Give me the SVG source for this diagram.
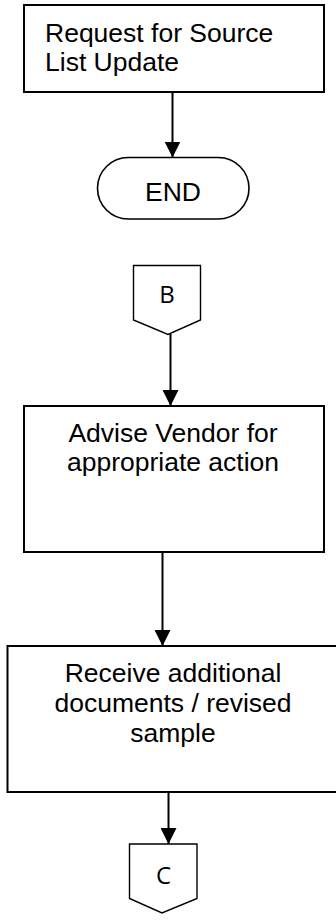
<svg xmlns="http://www.w3.org/2000/svg" width="336" height="920" viewBox="0 0 336 920">
<style>
.box{fill:#fff;stroke:#000;stroke-width:2}
.term{fill:#fff;stroke:#000;stroke-width:1.6}
.conn{fill:#fff;stroke:#000;stroke-width:1.4;stroke-linejoin:miter}
.t{font-family:"Liberation Sans",Arial,sans-serif;font-size:26.5px;fill:#000}
.c{text-anchor:middle}
.ct{font-family:"Open Sans","Liberation Sans",sans-serif;font-size:24px;fill:#000;text-anchor:middle}
.edge{stroke:#000;stroke-width:2;fill:none}
</style>
<defs>
<marker id="arr" markerUnits="userSpaceOnUse" markerWidth="16" markerHeight="16" refX="16" refY="8" orient="auto">
<path d="M0,0 L16,8 L0,16 Z" fill="#000"/>
</marker>
</defs>
<g id="connectors">
<line class="edge" x1="172.5" y1="92" x2="172.5" y2="157.5" marker-end="url(#arr)"/>
<line class="edge" x1="170.5" y1="334" x2="170.5" y2="406" marker-end="url(#arr)"/>
<line class="edge" x1="162.5" y1="552" x2="162.5" y2="646" marker-end="url(#arr)"/>
<line class="edge" x1="168.5" y1="792" x2="168.5" y2="844" marker-end="url(#arr)"/>
</g>
<g id="request">
<rect class="box" x="24" y="5" width="300" height="87"/>
<text class="t" x="45" y="41.7">Request for Source</text>
<text class="t" x="45" y="71">List Update</text>
</g>
<g id="end">
<rect class="term" x="97.5" y="157.5" width="151.5" height="61.5" rx="30.75" ry="30.75"/>
<text class="t c" x="173" y="201">END</text>
</g>
<g id="connB">
<path class="conn" d="M133.5,265.5 H200.5 V320 L168,334.5 L133.5,320 Z"/>
<text class="ct" x="167" y="303.3">B</text>
</g>
<g id="advise">
<rect class="box" x="24" y="406" width="300" height="146"/>
<text class="t c" x="173" y="441.7">Advise Vendor for</text>
<text class="t c" x="173" y="471.3">appropriate action</text>
</g>
<g id="receive">
<rect class="box" x="7.5" y="646" width="340" height="146"/>
<text class="t c" x="173" y="682.3">Receive additional</text>
<text class="t c" x="173" y="712.3">documents / revised</text>
<text class="t c" x="173" y="741.8">sample</text>
</g>
<g id="connC">
<path class="conn" d="M129.5,844 H197 V898.5 L162,913 L129.5,898.5 Z"/>
<text class="ct" x="163.5" y="884">C</text>
</g>
</svg>
